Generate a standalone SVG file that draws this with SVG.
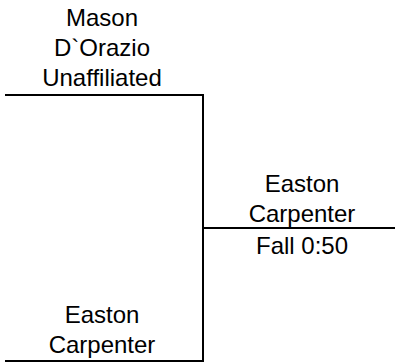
<svg xmlns="http://www.w3.org/2000/svg" width="395" height="364" viewBox="0 0 395 364">
<style>
.t{font-family:"Liberation Sans",Arial,sans-serif;font-size:24px;fill:#000;text-anchor:middle}
.c{stroke:#000;stroke-width:2;fill:none}
</style>
<rect width="395" height="364" fill="#fff"/>
<g id="connectors">
<polyline class="c" points="5,95 203,95 203,361 5,361"/>
<line class="c" x1="203" y1="228" x2="395" y2="228"/>
</g>
<g id="node-mason">
<text class="t" x="102" y="26">Mason</text>
<text class="t" x="102" y="56">D`Orazio</text>
<text class="t" x="102" y="86">Unaffiliated</text>
</g>
<g id="node-easton-bottom">
<text class="t" x="102" y="323">Easton</text>
<text class="t" x="102" y="353">Carpenter</text>
</g>
<g id="node-winner">
<text class="t" x="302" y="192">Easton</text>
<text class="t" x="302" y="222">Carpenter</text>
<text class="t" x="302" y="254">Fall 0:50</text>
</g>
</svg>
